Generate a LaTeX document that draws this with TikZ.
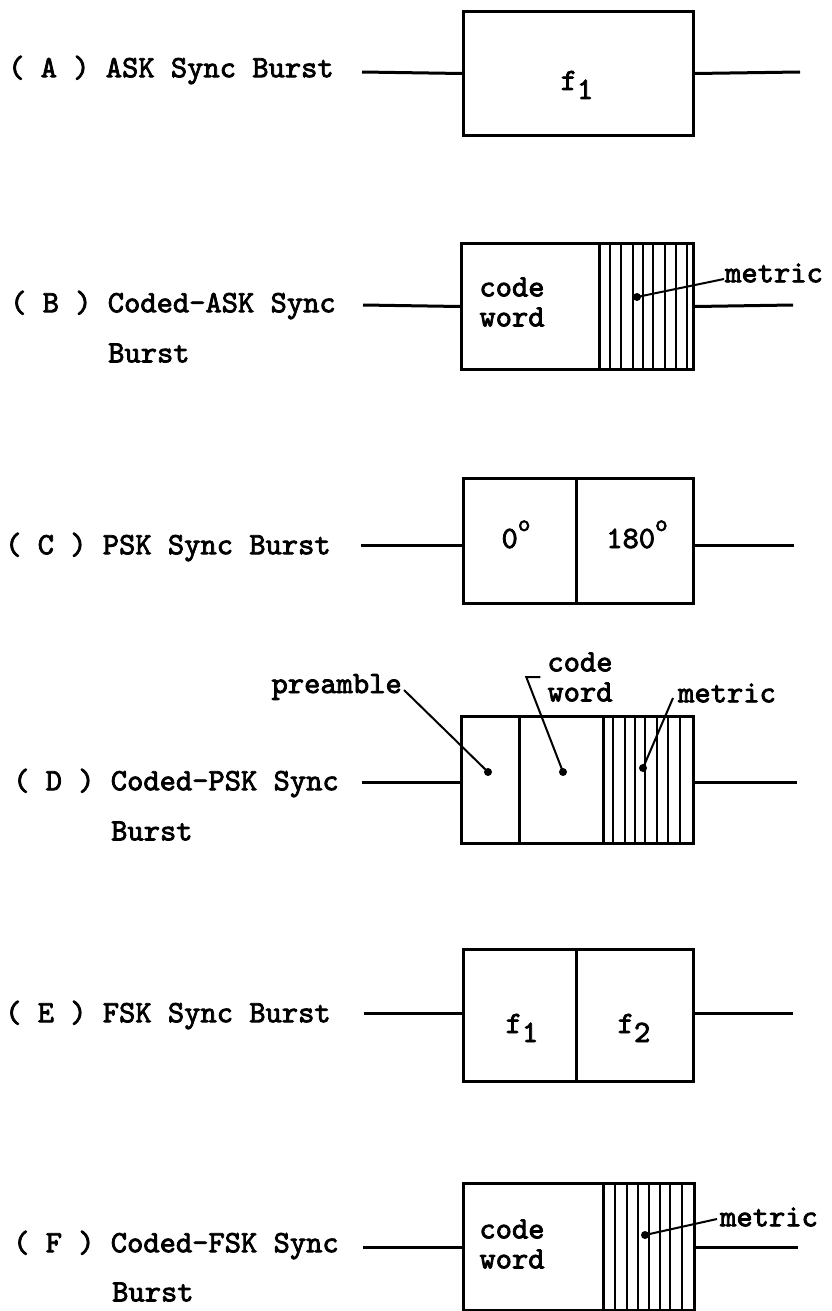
\documentclass[tikz,border=0pt]{standalone}
\usepackage{fontspec}
\newfontfamily\tw{lmmono10-regular.otf}[FakeBold=2.5]
\begin{document}
\begin{tikzpicture}[x=1pt,y=-1pt,
  lbl/.style={font=\tw\fontsize{31}{30}\selectfont, inner sep=0pt, anchor=west},
  txt/.style={font=\tw\fontsize{31}{30}\selectfont, inner sep=0pt, align=left},
  sym/.style={font=\tw\fontsize{31}{30}\selectfont, inner sep=0pt, anchor=base},
  cell/.style={draw, line width=3pt, inner sep=0pt, anchor=north west},
  wire/.style={line width=3pt},
  hatch/.style={line width=2pt},
  lead/.style={line width=2pt},
  dotm/.style={circle, fill, inner sep=0pt, minimum size=8pt}
]
\fill[white] (0,0) rectangle (832,1311);
\useasboundingbox (0,0) rectangle (832,1311);

% ---------- (A)
\node[cell, minimum width=230pt, minimum height=124pt] (A1) at (462,10) {};
\node[sym] (fA) at (577,90) {f\raisebox{-9pt}{1}};
\node[lbl] (LA) at (8,70) {( A ) ASK Sync Burst};
\coordinate (Al) at (362,72);
\coordinate (Ar) at (800,72);
\draw[wire] (Al) -- (A1.west);
\draw[wire] (A1.east) -- (Ar);

% ---------- (B)
\node[cell, minimum width=138pt, minimum height=126pt] (B1) at (460,242) {};
\node[cell, minimum width=94pt, minimum height=126pt] (B2) at (598,242) {};
\foreach \x in {610,621,633,643,653,665,676,687}
  \draw[hatch] (\x,242) -- (\x,368);
\node[txt] (cwB) at (512,302) {code\\word};
\node[lbl] (mB) at (725,273) {metric};
\coordinate (dB) at (637,297);
\draw[lead] ([xshift=-1pt,yshift=-6pt]mB.west) -- (dB);
\node[dotm] at (dB) {};
\node[lbl] (LB) at (10,305) {( B ) Coded-ASK Sync};
\node[lbl] (LB2) at (108,353) {Burst};
\coordinate (Bl) at (363,305);
\coordinate (Br) at (793,305);
\draw[wire] (Bl) -- (B1.west);
\draw[wire] (B2.east) -- (Br);

% ---------- (C)
\node[cell, minimum width=113pt, minimum height=125pt] (C1) at (462,477) {};
\node[cell, minimum width=117pt, minimum height=125pt] (C2) at (575,477) {};
\node[sym] (c0) at (516,548) {0\raisebox{17pt}{\fontsize{24}{24}\selectfont o}};
\node[sym] (c180) at (637,548) {180\raisebox{17pt}{\fontsize{24}{24}\selectfont o}};
\node[lbl] (LC) at (5,547) {( C ) PSK Sync Burst};
\coordinate (Cl) at (361,545);
\coordinate (Cr) at (794,545);
\draw[wire] (Cl) -- (Cl -| C1.west);
\draw[wire] (Cr -| C2.east) -- (Cr);

% ---------- (D)
\node[cell, minimum width=58pt, minimum height=127pt] (D1) at (460,715) {};
\node[cell, minimum width=84pt, minimum height=127pt] (D2) at (518,715) {};
\node[cell, minimum width=90pt, minimum height=127pt] (D3) at (602,715) {};
\foreach \x in {613,625,635,645,657,668,680}
  \draw[hatch] (\x,715) -- (\x,842);
\node[lbl, anchor=east] (pre) at (402,687) {preamble};
\node[txt] (cwD) at (580,677) {code\\word};
\node[lbl] (mD) at (678,693) {metric};
\coordinate (dD1) at (488,772);
\coordinate (dD2) at (563,772);
\coordinate (dD3) at (643,768);
\draw[lead] ([xshift=2pt,yshift=-3pt]pre.east) -- (dD1);
\draw[lead] ([xshift=-7pt]cwD.west) -- ([xshift=-21pt]cwD.west) -- (dD2);
\draw[lead] ([xshift=-5pt,yshift=-5pt]mD.west) -- (dD3);
\node[dotm] at (dD1) {};
\node[dotm] at (dD2) {};
\node[dotm] at (dD3) {};
\node[lbl] (LD) at (13,783) {( D ) Coded-PSK Sync};
\node[lbl] (LD2) at (111,831) {Burst};
\coordinate (Dl) at (362,782);
\coordinate (Dr) at (797,782);
\draw[wire] (Dl) -- (Dl -| D1.west);
\draw[wire] (Dr -| D3.east) -- (Dr);

% ---------- (E)
\node[cell, minimum width=113pt, minimum height=132pt] (E1) at (462,948) {};
\node[cell, minimum width=117pt, minimum height=132pt] (E2) at (575,948) {};
\node[sym] (f1E) at (522,1033) {f\raisebox{-9pt}{1}};
\node[sym] (f2E) at (634,1033) {f\raisebox{-9pt}{2}};
\node[lbl] (LE) at (5,1015) {( E ) FSK Sync Burst};
\coordinate (El) at (364,1013);
\coordinate (Er) at (793,1013);
\draw[wire] (El) -- (El -| E1.west);
\draw[wire] (Er -| E2.east) -- (Er);

% ---------- (F)
\node[cell, minimum width=140pt, minimum height=127pt] (F1) at (462,1182) {};
\node[cell, minimum width=91pt, minimum height=127pt] (F2) at (602,1182) {};
\foreach \x in {615,627,638,649,660,670,682}
  \draw[hatch] (\x,1182) -- (\x,1309);
\node[txt] (cwF) at (512,1244) {code\\word};
\node[lbl] (mF) at (720,1217) {metric};
\coordinate (dF) at (645,1235);
\draw[lead] ([xshift=-3pt,yshift=-2pt]mF.west) -- (dF);
\node[dotm] at (dF) {};
\node[lbl] (LF) at (13,1245) {( F ) Coded-FSK Sync};
\node[lbl] (LF2) at (112,1292) {Burst};
\coordinate (Fl) at (363,1247);
\coordinate (Fr) at (798,1247);
\draw[wire] (Fl) -- (Fl -| F1.west);
\draw[wire] (Fr -| F2.east) -- (Fr);
\end{tikzpicture}
\end{document}
